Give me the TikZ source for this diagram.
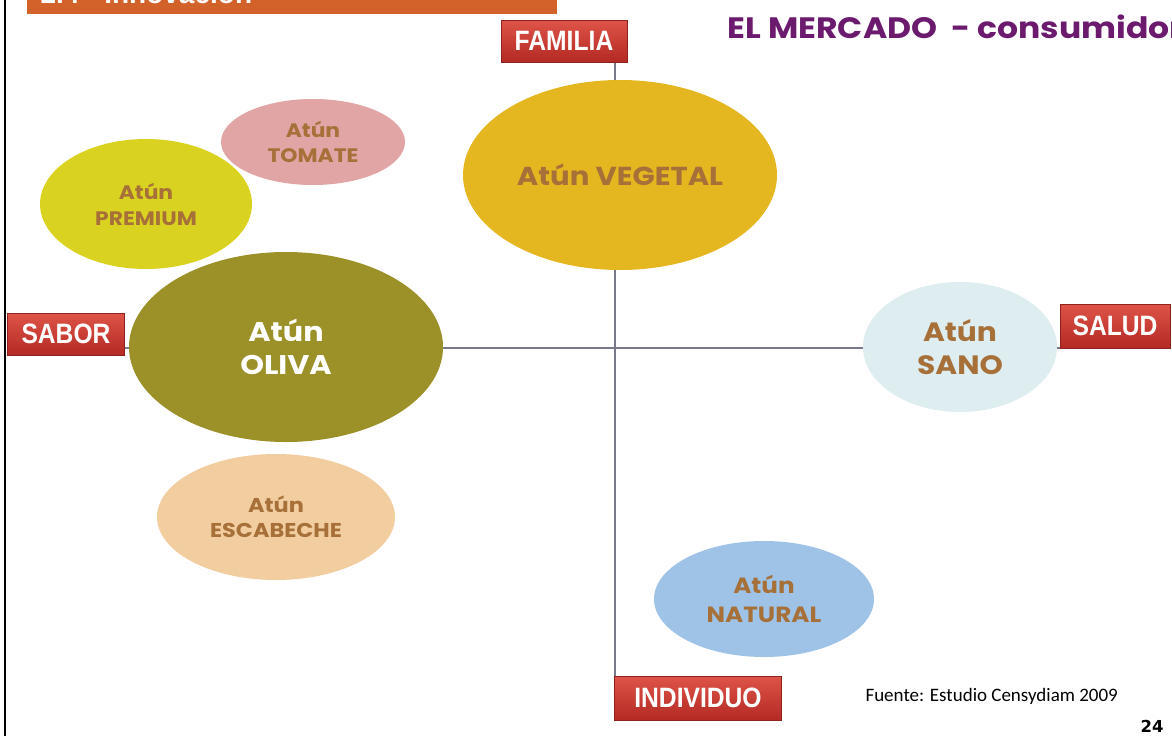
\documentclass[tikz,border=0pt]{standalone}
\usepackage{fontspec}
\setmainfont{Poppins}
\newfontfamily\gotica[FakeStretch=1.12]{Poppins}
\newfontfamily\etqfont[FakeStretch=0.88]{Liberation Sans}
\newfontfamily\bannerfont{Liberation Sans}
\newfontfamily\fuentefont{Carlito}
\newfontfamily\pagfont{DejaVu Sans}
\usetikzlibrary{shapes.geometric,backgrounds}
\definecolor{cafe}{RGB}{166,112,56}
\definecolor{morado}{RGB}{107,26,110}
\definecolor{naranja}{RGB}{210,98,42}
\definecolor{rojotop}{RGB}{222,84,72}
\definecolor{rojobot}{RGB}{180,42,36}
\definecolor{ejegris}{RGB}{120,122,140}
\definecolor{cVegetal}{RGB}{228,183,32}
\definecolor{cTomate}{RGB}{224,165,164}
\definecolor{cPremium}{RGB}{218,210,32}
\definecolor{cOliva}{RGB}{155,145,40}
\definecolor{cEscabeche}{RGB}{242,205,160}
\definecolor{cSano}{RGB}{222,237,240}
\definecolor{cNatural}{RGB}{158,195,230}

\begin{document}
\begin{tikzpicture}[x=1pt,y=-1pt,
  elip/.style={ellipse,inner sep=0pt,align=center,text=cafe},
  etq/.style={rectangle,top color=rojotop,bottom color=rojobot,draw=rojobot!80!black,
    text=white,font=\etqfont\bfseries\fontsize{28}{30}\selectfont,inner sep=0pt},
  eje/.style={ejegris,line width=1.2pt}]
\useasboundingbox (0,0) rectangle (1172,736);
\begin{scope}
\clip (0,0) rectangle (1172,736);
\fill[naranja] (27,-10) rectangle (557,14);
\node[anchor=base west,text=white,font=\bannerfont\bfseries\fontsize{28}{30}\selectfont] (banner) at (37,4) {2.4 - Innovación};
\node[anchor=base west,text=morado,font=\gotica\bfseries\fontsize{29.5}{32}\selectfont] (titulo) at (724,38) {EL MERCADO~ - consumidor};
\end{scope}
\draw[black,line width=2.5pt] (5,0) -- (5,736);
% etiquetas de los ejes
\node[etq,minimum width=126pt,minimum height=42pt] (familia) at (564,41) {FAMILIA};
\node[etq,minimum width=117pt,minimum height=42pt] (sabor) at (66,334) {SABOR};
\node[etq,minimum width=110pt,minimum height=44pt] (salud) at (1115,326) {SALUD};
\node[etq,minimum width=167pt,minimum height=44pt] (individuo) at (698,698) {INDIVIDUO};
\coordinate (centro) at (615,348);
% elipses
\node[elip,fill=cVegetal,minimum width=314pt,minimum height=190pt,font=\gotica\bfseries\fontsize{26}{30}\selectfont] (vegetal) at (620,175) {Atún VEGETAL};
\node[elip,fill=cTomate,minimum width=184pt,minimum height=86pt,font=\gotica\bfseries\fontsize{19.5}{25}\selectfont] (tomate) at (313,142) {Atún\\TOMATE};
\node[elip,fill=cPremium,minimum width=212pt,minimum height=130pt,font=\gotica\bfseries\fontsize{19.5}{26}\selectfont] (premium) at (146,204) {Atún\\PREMIUM};
\node[elip,fill=cOliva,text=white,minimum width=314pt,minimum height=190pt,font=\gotica\bfseries\fontsize{27}{33}\selectfont] (oliva) at (286,347) {Atún\\OLIVA};
\node[elip,fill=cEscabeche,minimum width=238pt,minimum height=126pt,font=\gotica\bfseries\fontsize{20}{25}\selectfont] (escabeche) at (276,517) {Atún\\ESCABECHE};
\node[elip,fill=cSano,minimum width=194pt,minimum height=130pt,font=\gotica\bfseries\fontsize{26.5}{33}\selectfont] (sano) at (960,347) {Atún\\SANO};
\node[elip,fill=cNatural,minimum width=220pt,minimum height=116pt,font=\gotica\bfseries\fontsize{22}{29}\selectfont] (natural) at (764,599) {Atún\\NATURAL};
% ejes detras
\begin{pgfonlayer}{background}
\draw[eje] (familia.south -| centro) -- (individuo.north -| centro);
\draw[eje] (sabor.east |- centro) -- (salud.west |- centro);
\end{pgfonlayer}
\node[anchor=base west,font=\fuentefont\fontsize{19}{22}\selectfont] (fuente) at (862,701) {Fuente: Estudio Censydiam 2009};
\node[anchor=base east,font=\pagfont\bfseries\fontsize{16.5}{19}\selectfont] (pagina) at (1167,732) {24};
\end{tikzpicture}
\end{document}
